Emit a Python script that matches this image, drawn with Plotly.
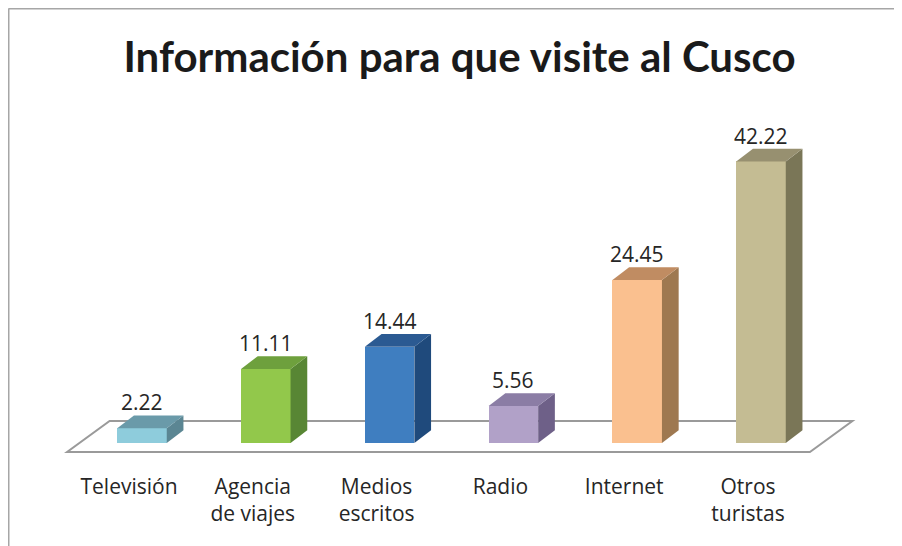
import plotly.graph_objects as go

# ---- data ----
categories = ["Televisión", "Agencia<br>de viajes", "Medios<br>escritos", "Radio", "Internet", "Otros<br>turistas"]
values = [2.22, 11.11, 14.44, 5.56, 24.45, 42.22]
value_labels = ["2.22", "11.11", "14.44", "5.56", "24.45", "42.22"]

# ---- styles ----
front_colors = ["#8ECCDC", "#92C84B", "#3F7EC0", "#B1A1C8", "#FAC08F", "#C4BC93"]
top_colors = ["#6A9AA9", "#6EA03D", "#2B5A92", "#8B7DA5", "#C08C62", "#979070"]
side_colors = ["#5B8693", "#588634", "#1F4A7C", "#6E6088", "#9E7850", "#7A7657"]

OFF = 8                      # page offset of the figure inside the window
W, H = 902 - OFF, 546 - OFF
MB = 88                      # bottom margin (px)
PLOT_H = H - MB
SX = 123.8                   # px per category
SY = 6.67                    # px per value unit
X0 = -(129.0 - OFF) / SX     # left of x range
Y1 = (443.0 - OFF) / SY      # top of y range
xr = [X0, X0 + W / SX]
yr = [Y1 - PLOT_H / SY, Y1]

# 3D geometry (in data units)
FLOOR_FRONT = -9.0 / SY
FLOOR_DX, FLOOR_DY = 42.5 / SX, 31.0 / SY
BAR_OFF = 13.0 / SX
BAR_W = 0.40
BAR_DX, BAR_DY = 16.7 / SX, 12.7 / SY

FONT = "Open Sans, Noto Sans, sans-serif"

n = len(values)
fig = go.Figure()

# floor (axis decoration)
fx = [-0.5, n - 0.5, n - 0.5 + FLOOR_DX, -0.5 + FLOOR_DX, -0.5]
fy = [FLOOR_FRONT, FLOOR_FRONT, FLOOR_FRONT + FLOOR_DY, FLOOR_FRONT + FLOOR_DY, FLOOR_FRONT]
path = "M " + " L ".join(f"{a},{b}" for a, b in zip(fx, fy)) + " Z"
fig.add_shape(type="path", path=path, xref="x", yref="y", layer="below",
              line=dict(color="#9A9A9A", width=2), fillcolor="white")

xc = [i + BAR_OFF for i in range(n)]

# front faces
fig.add_trace(go.Bar(x=xc, y=values, width=BAR_W, base=0,
                     marker=dict(color=front_colors, line=dict(width=0)),
                     hoverinfo="skip", showlegend=False))

# side and top faces computed from the values
for i, v in enumerate(values):
    xl, xrr = xc[i] - BAR_W / 2, xc[i] + BAR_W / 2
    fig.add_trace(go.Scatter(
        x=[xrr, xrr + BAR_DX, xrr + BAR_DX, xrr, xrr],
        y=[0, BAR_DY, v + BAR_DY, v, 0],
        fill="toself", fillcolor=side_colors[i], mode="lines",
        line=dict(width=0, color=side_colors[i]), hoverinfo="skip", showlegend=False))
    fig.add_trace(go.Scatter(
        x=[xl, xrr, xrr + BAR_DX, xl + BAR_DX, xl],
        y=[v, v, v + BAR_DY, v + BAR_DY, v],
        fill="toself", fillcolor=top_colors[i], mode="lines",
        line=dict(width=0, color=top_colors[i]), hoverinfo="skip", showlegend=False))
    fig.add_annotation(x=xc[i], y=v + BAR_DY, text=value_labels[i], showarrow=False,
                       xanchor="center", yanchor="middle", yshift=13,
                       font=dict(family=FONT, size=21, color="#262626"))

# outer chart border (cropped on the right and bottom)
fig.add_shape(type="line", xref="paper", yref="paper",
              x0=0.5 / W, x1=1.01, y0=1 - 0.5 / PLOT_H, y1=1 - 0.5 / PLOT_H,
              line=dict(color="#A6A6A6", width=2))
fig.add_shape(type="line", xref="paper", yref="paper",
              x0=0.5 / W, x1=0.5 / W, y0=1 - 0.5 / PLOT_H, y1=1 - (H + 5) / PLOT_H,
              line=dict(color="#A6A6A6", width=2))

fig.update_layout(
    width=W, height=H,
    margin=dict(l=0, r=0, t=0, b=MB),
    paper_bgcolor="white", plot_bgcolor="rgba(0,0,0,0)",
    title=dict(text="<b>Información para que visite al Cusco</b>",
               x=(459.5 - OFF) / W, xref="container", xanchor="center",
               y=1 - (57 - OFF) / H, yref="container", yanchor="middle",
               font=dict(family="Lato, Open Sans, sans-serif", size=42, color="#1A1A1A")),
    xaxis=dict(range=xr, tickmode="array", tickvals=list(range(n)), ticktext=categories,
               showgrid=False, zeroline=False, showline=False, ticks="",
               ticklabelstandoff=14,
               tickfont=dict(family=FONT, size=21, color="#262626")),
    yaxis=dict(range=yr, visible=False, showgrid=False, zeroline=False),
    bargap=0, showlegend=False,
)

fig.write_html("out.html")
